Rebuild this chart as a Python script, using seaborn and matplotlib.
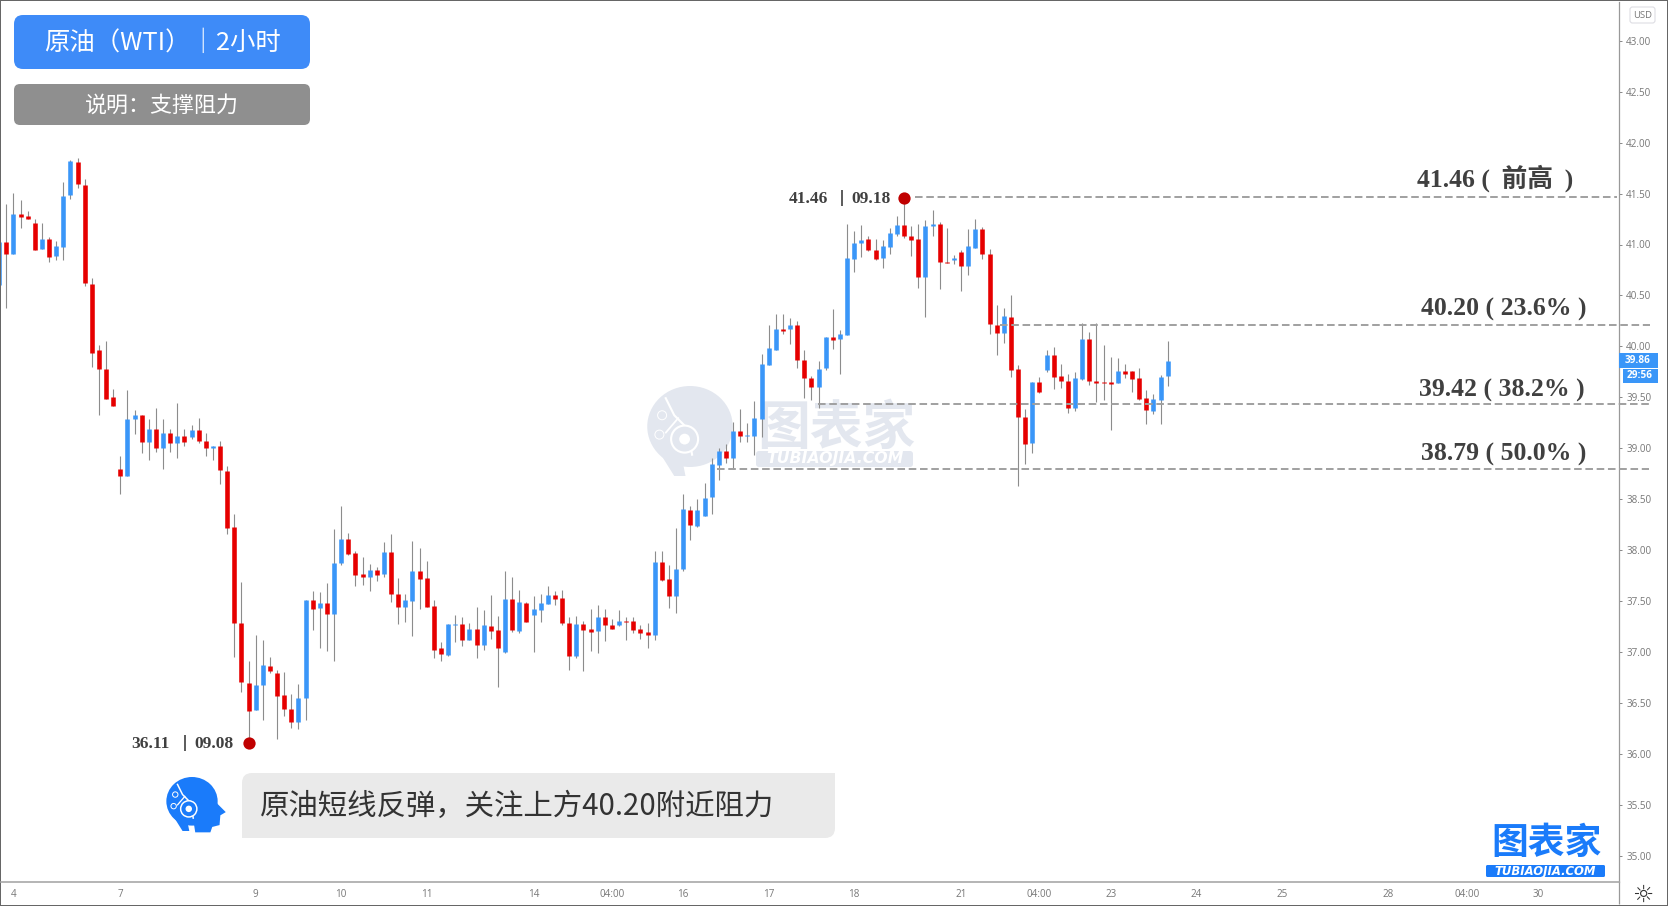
import numpy as np
import pandas as pd
import matplotlib
matplotlib.use('Agg')
import matplotlib.pyplot as plt
import seaborn as sns
from matplotlib.patches import FancyBboxPatch, Ellipse, Polygon, Rectangle, Circle
from matplotlib.transforms import Affine2D

# WTI 2h candles
opens = [40.60, 41.02, 40.91, 41.30, 41.28, 41.21, 40.96, 41.05, 40.89, 40.98,
         41.49, 41.81, 41.58, 40.61, 39.96, 39.78, 39.50, 38.80, 38.73, 39.29,
         39.33, 39.06, 39.19, 39.00, 39.15, 39.05, 39.12, 39.11, 39.18, 39.07,
         39.00, 39.02, 38.78, 38.23, 37.29, 36.70, 36.43, 36.68, 36.86, 36.79,
         36.58, 36.44, 36.31, 36.55, 37.51, 37.43, 37.48, 37.37, 37.87, 38.11,
         37.97, 37.77, 37.74, 37.81, 37.77, 37.98, 37.57, 37.44, 37.50, 37.80,
         37.73, 37.45, 37.04, 36.97, 37.27, 37.28, 37.12, 37.23, 37.07, 37.26,
         37.22, 37.00, 37.52, 37.21, 37.48, 37.36, 37.41, 37.47, 37.56, 37.53,
         37.29, 36.96, 37.28, 37.23, 37.21, 37.34, 37.27, 37.27, 37.31, 37.31,
         37.23, 37.20, 37.17, 37.88, 37.72, 37.55, 37.82, 38.39, 38.24, 38.34,
         38.52, 38.84, 38.97, 38.90, 39.17, 39.12, 39.12, 39.29, 39.82, 39.96,
         40.17, 40.17, 40.21, 39.87, 39.69, 39.60, 39.79, 40.09, 40.07, 40.11,
         40.86, 41.01, 41.05, 40.95, 40.87, 40.98, 41.10, 41.19, 41.08, 41.05,
         40.68, 41.18, 41.20, 40.83, 40.85, 40.93, 40.79, 40.97, 41.15, 40.91,
         40.21, 40.13, 40.29, 39.78, 39.31, 39.05, 39.65, 39.77, 39.92, 39.71,
         39.66, 39.40, 39.68, 40.07, 39.66, 39.65, 39.65, 39.64, 39.76, 39.76,
         39.69, 39.49, 39.37, 39.47, 39.71]
highs = [41.02, 41.40, 41.51, 41.44, 41.33, 41.25, 41.21, 41.07, 41.03, 41.61,
         41.83, 41.85, 41.64, 40.67, 40.01, 40.05, 39.58, 38.92, 39.57, 39.38,
         39.33, 39.29, 39.40, 39.29, 39.19, 39.44, 39.19, 39.23, 39.30, 39.15,
         39.02, 39.07, 38.83, 38.36, 37.69, 36.91, 37.17, 37.12, 36.95, 36.82,
         36.80, 36.59, 36.69, 37.51, 37.60, 37.59, 37.68, 38.21, 38.43, 38.17,
         37.99, 37.93, 37.86, 37.84, 38.08, 38.16, 37.73, 37.57, 38.09, 38.02,
         37.89, 37.51, 37.10, 37.28, 37.36, 37.34, 37.29, 37.44, 37.41, 37.56,
         37.35, 37.80, 37.74, 37.61, 37.49, 37.55, 37.57, 37.65, 37.60, 37.61,
         37.34, 37.35, 37.31, 37.42, 37.46, 37.42, 37.32, 37.41, 37.34, 37.34,
         37.27, 37.29, 37.99, 37.99, 37.85, 38.22, 38.55, 38.43, 38.50, 38.66,
         38.90, 39.00, 39.04, 39.26, 39.39, 39.25, 39.46, 39.93, 40.21, 40.32,
         40.32, 40.28, 40.25, 39.96, 39.71, 39.86, 40.09, 40.37, 40.16, 41.20,
         41.13, 41.19, 41.08, 41.05, 41.04, 41.16, 41.28, 41.46, 41.18, 41.20,
         41.24, 41.34, 41.22, 41.16, 40.90, 40.95, 41.15, 41.25, 41.17, 40.96,
         40.41, 40.38, 40.50, 39.82, 39.39, 39.65, 39.70, 39.96, 39.99, 39.83,
         39.73, 39.75, 40.23, 40.14, 40.23, 40.01, 39.90, 39.89, 39.83, 39.76,
         39.79, 39.57, 39.53, 39.72, 40.05]
lows = [40.60, 40.38, 40.91, 41.16, 41.25, 40.95, 40.96, 40.83, 40.85, 40.85,
        41.45, 41.55, 40.59, 39.80, 39.33, 39.48, 39.42, 38.55, 38.73, 39.14,
        38.95, 38.89, 38.96, 38.80, 38.96, 38.90, 39.02, 39.09, 39.05, 38.92,
        38.89, 38.65, 38.16, 36.95, 36.61, 36.11, 36.43, 36.33, 36.79, 36.15,
        36.37, 36.26, 36.25, 36.33, 37.22, 37.04, 37.01, 36.91, 37.85, 37.95,
        37.65, 37.66, 37.60, 37.70, 37.74, 37.49, 37.28, 37.30, 37.16, 37.42,
        37.44, 36.94, 36.91, 36.96, 37.10, 37.06, 37.12, 36.94, 37.02, 37.13,
        36.66, 36.99, 37.20, 37.19, 37.30, 37.00, 37.30, 37.47, 37.46, 37.27,
        36.82, 36.94, 36.81, 37.01, 36.99, 37.11, 37.23, 37.26, 37.12, 37.19,
        37.13, 37.04, 37.12, 37.70, 37.43, 37.38, 37.80, 38.10, 38.23, 38.34,
        38.36, 38.69, 38.86, 38.80, 39.06, 39.06, 38.93, 39.11, 39.82, 39.96,
        40.12, 40.02, 39.79, 39.49, 39.47, 39.40, 39.77, 39.97, 39.73, 40.11,
        40.73, 40.88, 40.94, 40.85, 40.77, 40.91, 41.08, 41.06, 40.89, 40.57,
        40.29, 41.08, 40.56, 40.82, 40.81, 40.54, 40.70, 40.97, 40.86, 40.12,
        39.92, 40.03, 39.70, 38.63, 38.85, 38.95, 39.54, 39.75, 39.58, 39.59,
        39.35, 39.37, 39.67, 39.62, 39.45, 39.47, 39.18, 39.64, 39.69, 39.55,
        39.47, 39.24, 39.34, 39.24, 39.61]
closes = [41.02, 40.91, 41.30, 41.27, 41.25, 40.95, 41.05, 40.88, 40.99, 41.48,
          41.82, 41.59, 40.62, 39.94, 39.78, 39.48, 39.42, 38.73, 39.29, 39.33,
          39.06, 39.19, 39.00, 39.15, 39.05, 39.12, 39.06, 39.18, 39.07, 39.00,
          39.02, 38.79, 38.22, 37.29, 36.71, 36.42, 36.68, 36.87, 36.81, 36.57,
          36.44, 36.31, 36.55, 37.51, 37.42, 37.48, 37.37, 37.87, 38.11, 37.96,
          37.76, 37.74, 37.81, 37.76, 37.98, 37.57, 37.44, 37.51, 37.80, 37.72,
          37.44, 37.02, 36.98, 37.28, 37.28, 37.12, 37.23, 37.07, 37.27, 37.21,
          37.04, 37.52, 37.22, 37.49, 37.30, 37.42, 37.48, 37.56, 37.52, 37.29,
          36.96, 37.28, 37.22, 37.20, 37.34, 37.27, 37.23, 37.31, 37.30, 37.22,
          37.19, 37.17, 37.88, 37.71, 37.55, 37.82, 38.40, 38.25, 38.39, 38.51,
          38.85, 38.97, 38.90, 39.17, 39.12, 39.13, 39.30, 39.83, 39.98, 40.17,
          40.15, 40.21, 39.87, 39.69, 39.60, 39.78, 40.09, 40.06, 40.12, 40.87,
          41.01, 41.04, 40.95, 40.86, 40.99, 41.11, 41.19, 41.08, 41.04, 40.68,
          41.18, 41.20, 40.83, 40.82, 40.87, 40.79, 40.99, 41.15, 40.91, 40.22,
          40.13, 40.30, 39.77, 39.31, 39.04, 39.65, 39.55, 39.92, 39.70, 39.66,
          39.40, 39.69, 40.07, 39.66, 39.64, 39.64, 39.63, 39.76, 39.73, 39.68,
          39.48, 39.38, 39.48, 39.70, 39.86]

# niveles de soporte / resistencia
level_values = [41.47, 40.21, 39.43, 38.80]
level_start_bars = [128.5, 140.5, 114.9, 100.7]
level_end_bars = [227.0, 231.7, 231.6, 231.5]
level_labels = ['41.46 (\u2009 前高 \u2009)', '40.20 ( 23.6% )', '39.42 ( 38.2% )', '38.79 ( 50.0% )']

# maximo y minimo marcados
extreme_bars = [127, 35]
extreme_prices = [41.46, 36.11]

# ejes
x_tick_bars = [2, 17, 36, 48, 60, 75, 86, 96, 108, 120, 135, 146, 156, 168, 180, 195, 206, 216]
x_tick_labels = ['4', '7', '9', '10', '11', '14', '04:00', '16', '17', '18', '21',
                 '04:00', '23', '24', '25', '28', '04:00', '30']
y_ticks = [35.0, 35.5, 36.0, 36.5, 37.0, 37.5, 38.0, 38.5, 39.0, 39.5, 40.0,
           40.5, 41.0, 41.5, 42.0, 42.5, 43.0]

W, H = 1668, 906
BLUE = '#3A96F8'
RED = '#E60000'
LOGO = '#1A7BFA'
WM = '#E3E7EF'
TXT = '#404040'
SANS = ['Noto Sans CJK SC', 'DejaVu Sans']
SERIF = ['Liberation Serif', 'Noto Sans CJK SC']

sns.set_theme(style='white')
plt.rcParams['font.family'] = SANS
plt.rcParams['lines.solid_capstyle'] = 'butt'

n_bars = len(opens)
bars = np.arange(n_bars)
df = pd.DataFrame({'bar': bars, 'open': opens, 'high': highs, 'low': lows, 'close': closes})
df['dir'] = np.where(df['close'] >= df['open'], 'up', 'down')

wicks = df.melt(id_vars='bar', value_vars=['high', 'low'], value_name='price')
bodies = df.melt(id_vars=['bar', 'dir'], value_vars=['open', 'close'], value_name='price')

fig = plt.figure(figsize=(W / 100, H / 100), dpi=100, facecolor='white', edgecolor='#666666', linewidth=1.3)
ax = fig.add_axes([1 / W, 1 - 881.7 / H, 1618 / W, 879.7 / H])
ax.set_facecolor('none')

# coordenadas en pixeles de la imagen (origen arriba a la izquierda)
px = Affine2D().scale(1 / W, -1 / H).translate(0, 1) + fig.transFigure


def bar_of(x):
    return (x + 0.8) / 7.125


def price_of(y):
    return 43 - (y - 40.7) / 101.9


def rbox(x0, y0, x1, y1, color, r=8, z=6, ec='none', lw=0):
    ax.add_patch(FancyBboxPatch((x0 + r, y0 + r), x1 - x0 - 2 * r, y1 - y0 - 2 * r,
                                boxstyle=f'round,pad={r},rounding_size={r}', fc=color, ec=ec, lw=lw,
                                transform=px, zorder=z, clip_on=False))


def sqbox(x, y, w, h, color, z=6):
    ax.add_patch(Rectangle((x, y), w, h, fc=color, ec='none', lw=0, transform=px, zorder=z, clip_on=False))


def label(x, y, s, z=7, **kw):
    kw.setdefault('ha', 'center')
    kw.setdefault('va', 'center')
    ax.text(x, y, s, transform=px, zorder=z, clip_on=False, **kw)


def head(cx, cy, r, color, z, nose=True):
    ax.add_patch(Ellipse((cx, cy - 0.1 * r), 1.9 * r, 1.8 * r, fc=color, ec='none', transform=px, zorder=z, clip_on=False))
    if nose:
        pts = [(0.6, -0.5), (0.95, 0.0), (1.25, 0.3), (1.05, 0.42), (1.02, 0.78), (0.75, 0.85), (0.68, 1.05),
               (0.12, 1.05), (0.05, 0.6), (-0.2, 0.5)]
        ax.add_patch(Polygon([(cx + a * r, cy + b * r) for a, b in pts], fc=color, ec='none', transform=px, zorder=z, clip_on=False))
    pts2 = [(-0.85, 0.2), (-0.2, 0.5), (-0.1, 1.0), (-0.35, 1.0)]
    ax.add_patch(Polygon([(cx + a * r, cy + b * r) for a, b in pts2], fc=color, ec='none', transform=px, zorder=z, clip_on=False))
    # circuito
    ax.plot([cx - 0.55 * r, cx - 0.35 * r, cx - 0.05 * r, cx + 0.05 * r], [cy - 0.75 * r, cy - 0.35 * r, cy - 0.05 * r, cy + 0.55 * r],
            color='white', lw=r * 0.025 + 0.4, transform=px, zorder=z + 0.1, clip_on=False)
    ax.plot([cx - 0.55 * r, cx - 0.25 * r], [cy + 0.05 * r, cy - 0.3 * r], color='white', lw=r * 0.02 + 0.4, transform=px,
            zorder=z + 0.1, clip_on=False)
    ax.add_patch(Circle((cx - 0.12 * r, cy + 0.18 * r), 0.3 * r, fc=color, ec='white', lw=r * 0.025 + 0.4, transform=px,
                        zorder=z + 0.1, clip_on=False))
    ax.add_patch(Circle((cx - 0.12 * r, cy + 0.18 * r), 0.12 * r, fc='white', ec='none', transform=px, zorder=z + 0.1, clip_on=False))
    ax.add_patch(Circle((cx - 0.62 * r, cy - 0.35 * r), 0.1 * r, fc=color, ec='white', lw=0.7, transform=px, zorder=z + 0.2, clip_on=False))
    ax.add_patch(Circle((cx - 0.68 * r, cy + 0.08 * r), 0.1 * r, fc=color, ec='white', lw=0.7, transform=px, zorder=z + 0.2, clip_on=False))


# marca de agua
head(690, 431, 45, WM, 0.5, nose=False)
label(836, 428, '图表家', z=0.6, color=WM, fontsize=38, fontweight='bold')
rbox(756, 451, 913, 467, WM, r=3, z=0.6)
label(835, 459, 'TUBIAOJIA.COM', z=0.7, color='white', fontsize=11.3, fontweight='bold', style='oblique', family='DejaVu Sans')

# velas
sns.lineplot(data=wicks, x='bar', y='price', units='bar', estimator=None, color='#8C8C8C', linewidth=0.8,
             legend=False, ax=ax, zorder=2)
sns.lineplot(data=bodies, x='bar', y='price', units='bar', hue='dir', palette={'up': BLUE, 'down': RED},
             estimator=None, linewidth=3.3, legend=False, ax=ax, zorder=3)

# niveles
for val, b0, b1 in zip(level_values, level_start_bars, level_end_bars):
    ax.plot([b0, b1], [val, val], color='#A0A0A0', lw=1.4, dashes=(3.9, 1.9), zorder=4, clip_on=False)
level_text_pos = [(1495.5, 178), (1503.5, 309), (1502, 390), (1503.5, 454)]
for (tx, ty), txt in zip(level_text_pos, level_labels):
    label(tx, ty, txt, color=TXT, fontsize=18.5, fontweight='bold', family=SERIF)

# maximo / minimo
extremes = pd.DataFrame({'bar': extreme_bars, 'price': extreme_prices})
sns.scatterplot(data=extremes, x='bar', y='price', color='#C00000', s=78, linewidth=0, legend=False, ax=ax, zorder=5)
for xa, xl, xb, yc, a, b in [(808.5, 842, 871.5, 199, '41.46', '09.18'), (150.5, 185, 214, 744, '36.11', '09.08')]:
    label(xa, yc, a, color=TXT, fontsize=12.5, fontweight='bold', family=SERIF)
    label(xb, yc, b, color=TXT, fontsize=12.5, fontweight='bold', family=SERIF)
    ax.plot([xl, xl], [yc - 9, yc + 7], color=TXT, lw=1.2, transform=px, zorder=7, clip_on=False)

# ejes
ax.set_xlim(bar_of(1), bar_of(1619))
ax.set_ylim(price_of(881.7), price_of(2))
ax.yaxis.tick_right()
ax.set_xticks(x_tick_bars, x_tick_labels)
ax.set_yticks(y_ticks, [f'{v:.2f}' for v in y_ticks])
ax.tick_params(axis='x', length=2.2, width=0.7, color='#888888', labelcolor='#777777', labelsize=7.1, pad=3.0)
ax.tick_params(axis='y', length=2.2, width=0.7, color='#888888', labelcolor='#777777', labelsize=7.1, pad=3.0, right=True, left=False)
for lab in ax.get_xticklabels() + ax.get_yticklabels():
    lab.set_fontfamily('Open Sans')
ax.set_xlabel('')
ax.set_ylabel('')
ax.grid(False)
for side in ['top', 'left']:
    ax.spines[side].set_visible(False)
ax.spines['right'].set_color('#999999')
ax.spines['right'].set_linewidth(0.9)
ax.spines['bottom'].set_color('#A8A8A8')
ax.spines['bottom'].set_linewidth(1.2)
ax.plot([1619, 1619], [881, 904], color='#999999', lw=0.9, transform=px, clip_on=False)

# etiquetas del eje de precios
rbox(1630, 7, 1655, 23, 'white', r=2.5, ec='#DDDDE3', lw=0.8)
label(1642.5, 15, 'USD', color='#777777', fontsize=6.8, family='Open Sans')
sqbox(1619, 353, 38.7, 15, BLUE)
sqbox(1622.7, 369, 35, 14, BLUE)
label(1638, 360.5, '39.86', color='white', fontsize=7.2, fontweight='bold', family='Open Sans')
label(1640, 376, '29:56', color='white', fontsize=7.2, fontweight='bold', family='Open Sans')
label(1643, 895, '☼', color='#333333', fontsize=17, family='DejaVu Sans')

# cabeceras
rbox(14, 15, 310, 69, '#3E8BF8', r=9)
label(162, 43, '原油（WTI）｜2小时', color='white', fontsize=18.3)
rbox(14, 84, 310, 125, '#8F8F8F', r=6)
label(162, 106, '说明：支撑阻力', color='white', fontsize=15.8)

# comentario
rbox(242, 773, 835, 838, '#EAEAEA', r=10, z=5)
sqbox(242, 820, 14, 18, '#EAEAEA', z=5)
sqbox(820, 773, 15, 18, '#EAEAEA', z=5)
label(260, 806, '原油短线反弹，关注上方40.20附近阻力', ha='left', color='#333333', fontsize=21.2)
head(192, 804, 27, LOGO, 6)

# logo
label(1546, 843, '图表家', color=LOGO, fontsize=26.5, fontweight='bold')
rbox(1486, 865, 1605, 877, LOGO, r=1.5)
label(1545.5, 871, 'TUBIAOJIA.COM', color='white', fontsize=8.4, fontweight='bold', style='oblique', family='DejaVu Sans')

fig.savefig('out.png', dpi=100)
